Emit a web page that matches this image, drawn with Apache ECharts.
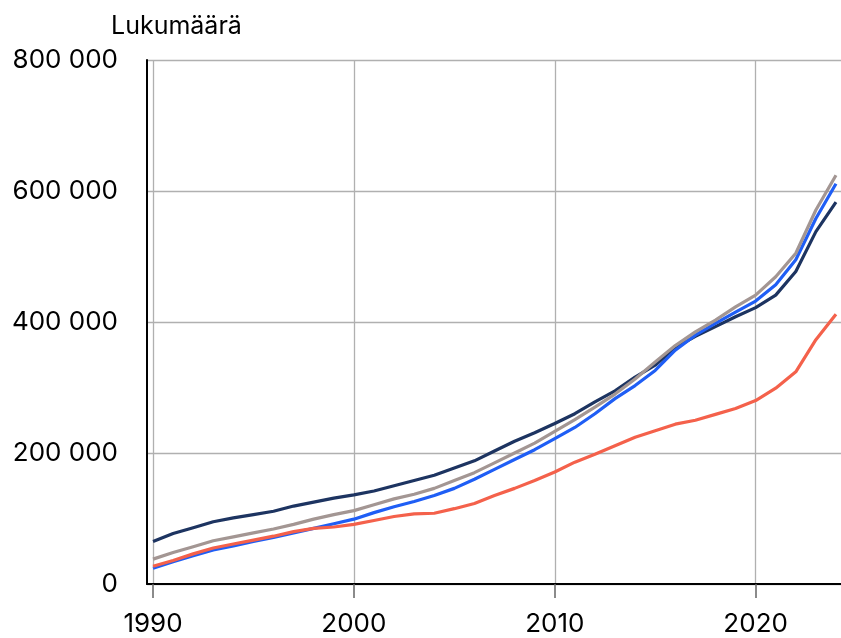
<!DOCTYPE html>
<html>
<head>
<meta charset="utf-8">
<script src="https://cdn.jsdelivr.net/npm/echarts@6/dist/echarts.min.js"></script>
<style>
  html, body { margin: 0; padding: 0; background: #fff; }
  #chart { width: 841px; height: 638px; }
</style>
</head>
<body>
<div id="chart"></div>
<script>
// vuodet 1990-2024
const years = [];
for (let y = 1990; y <= 2024; y++) years.push(y);

const xTicks = [1990, 2000, 2010, 2020];

// tummansininen
const navyValues = [
  65000, 77000, 86000, 95000, 101000, 106000, 111000, 119000, 125000, 131000,
  136000, 142000, 150000, 158000, 166000, 177000, 188000, 203000, 218000, 231000,
  245000, 260000, 278000, 295000, 316000, 334000, 361000, 378000, 393000, 408000,
  422000, 441000, 477000, 538000, 583000
];
// sininen
const blueValues = [
  24000, 34000, 43000, 52000, 58000, 65000, 71000, 78000, 85000, 92000,
  99000, 109000, 118000, 126000, 135000, 146000, 160000, 175000, 190000, 205000,
  222000, 239000, 260000, 283000, 303000, 326000, 357000, 380000, 398000, 415000,
  432000, 457000, 495000, 558000, 611000
];
// punainen
const redValues = [
  27000, 36000, 46000, 55000, 61000, 67000, 73000, 80000, 85000, 87000,
  91000, 97000, 103000, 107000, 108000, 115000, 123000, 135000, 146000, 158000,
  171000, 186000, 198000, 211000, 224000, 234000, 244000, 250000, 259000, 268000,
  280000, 299000, 324000, 373000, 412000
];
// harmaa
const grayValues = [
  38000, 48000, 57000, 66000, 72000, 78000, 84000, 91000, 99000, 106000,
  112000, 121000, 130000, 137000, 146000, 158000, 170000, 185000, 200000, 215000,
  233000, 251000, 270000, 290000, 313000, 339000, 364000, 385000, 403000, 423000,
  441000, 469000, 505000, 571000, 624000
];

function pairs(vals) {
  return years.map((y, i) => [y, vals[i]]);
}

function fmt(v) {
  return String(v).replace(/\B(?=(\d{3})+(?!\d))/g, " ");
}

const FONT = "Inter, 'Noto Sans', sans-serif";

function lineSeries(name, vals, color) {
  return {
    name: name,
    type: "line",
    data: pairs(vals),
    showSymbol: false,
    smooth: false,
    lineStyle: { color: color, width: 3.2 },
    itemStyle: { color: color },
  };
}

const chart = echarts.init(document.getElementById("chart"), null, { renderer: "canvas" });
chart.setOption({
  animation: false,
  textStyle: { fontFamily: FONT },
  title: {
    text: "Lukumäärä",
    left: 106,
    top: 9,
    textStyle: { fontFamily: FONT, fontSize: 25, fontWeight: "normal", color: "#000" },
  },
  grid: { left: 147, right: 0, top: 60, bottom: 54, containLabel: false },
  xAxis: {
    type: "value",
    min: 1989.7,
    max: 2024.25,
    axisLine: { show: true, lineStyle: { color: "#000", width: 2 } },
    axisTick: {
      show: true,
      length: 14,
      customValues: xTicks,
      lineStyle: { color: "#666", width: 1.5 },
    },
    axisLabel: {
      customValues: xTicks,
      margin: 27,
      fontSize: 26,
      color: "#000",
      fontFamily: FONT,
      formatter: (v) => String(v),
    },
    splitLine: { show: true, lineStyle: { color: "#b0b0b0", width: 1.3 } },
  },
  yAxis: {
    type: "value",
    min: 0,
    max: 800000,
    interval: 200000,
    axisLine: { show: true, lineStyle: { color: "#000", width: 2 } },
    axisTick: { show: false },
    axisLabel: {
      margin: 29,
      fontSize: 26,
      color: "#000",
      fontFamily: FONT,
      formatter: fmt,
    },
    splitLine: { show: true, lineStyle: { color: "#b0b0b0", width: 1.3 } },
  },
  series: [
    lineSeries("Navy", navyValues, "#1d3461"),
    lineSeries("Blue", blueValues, "#1f5ef5"),
    lineSeries("Red", redValues, "#f4614b"),
    lineSeries("Gray", grayValues, "#a39693"),
  ],
});
</script>
</body>
</html>
